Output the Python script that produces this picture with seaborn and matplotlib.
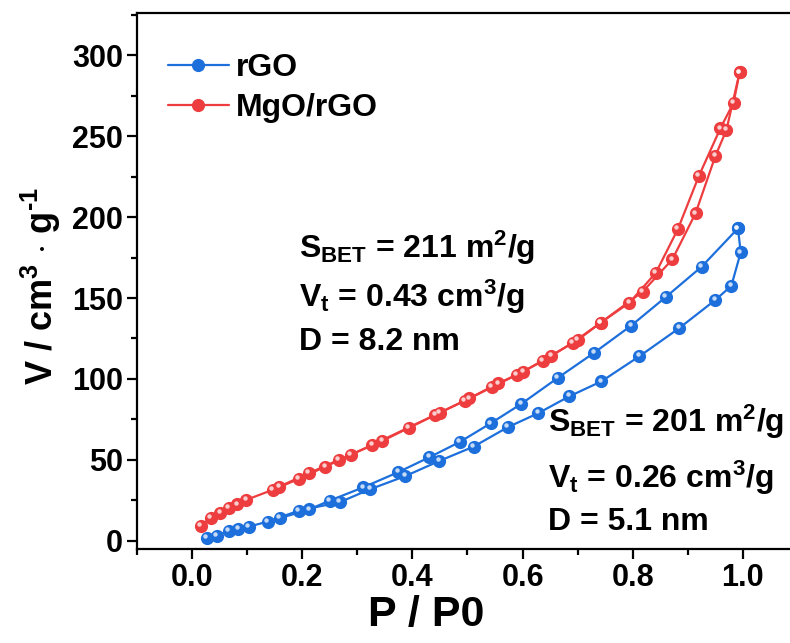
import numpy as np
import pandas as pd
import seaborn as sns
import matplotlib
matplotlib.use("Agg")
import matplotlib.pyplot as plt
from matplotlib.transforms import offset_copy
from matplotlib.ticker import MultipleLocator
from matplotlib.lines import Line2D

# ---------------- data ----------------
mg_ads_p = [0.016, 0.034, 0.051, 0.067, 0.082, 0.098, 0.146, 0.194, 0.242, 0.288, 0.327, 0.393, 0.441,
            0.495, 0.544, 0.589, 0.637, 0.691, 0.742, 0.818, 0.872, 0.914, 0.950, 0.970, 0.994]
mg_ads_v = [9.3, 14.4, 17.1, 20.2, 22.6, 25.3, 31.5, 38.3, 45.9, 53.1, 59.3, 70.0, 77.8,
            86.5, 94.9, 102.5, 111.1, 122.4, 134.8, 153.9, 173.9, 202.3, 237.7, 253.7, 289.3]
mg_des_p = [0.994, 0.983, 0.959, 0.920, 0.882, 0.842, 0.794, 0.742, 0.700, 0.652, 0.601, 0.556,
            0.503, 0.450, 0.345, 0.266, 0.212, 0.158]
mg_des_v = [289.3, 270.6, 254.7, 225.3, 192.6, 165.6, 147.1, 134.8, 124.0, 114.4, 104.5, 97.3,
            88.0, 79.2, 61.7, 50.0, 41.8, 33.5]

rgo_ads_p = [0.027, 0.045, 0.067, 0.084, 0.103, 0.137, 0.194, 0.268, 0.323, 0.387, 0.449, 0.511,
             0.573, 0.628, 0.685, 0.743, 0.812, 0.884, 0.950, 0.979, 0.996, 0.991]
rgo_ads_v = [1.8, 3.1, 6.4, 7.2, 8.8, 11.9, 18.7, 23.9, 31.9, 40.0, 49.4, 58.2,
             70.2, 78.8, 89.3, 98.5, 114.0, 131.3, 148.8, 157.5, 178.2, 193.0]
rgo_des_p = [0.991, 0.925, 0.860, 0.797, 0.730, 0.664, 0.598, 0.542, 0.486, 0.431, 0.374, 0.311,
             0.250, 0.213, 0.159]
rgo_des_v = [193.0, 169.3, 150.6, 132.9, 116.2, 100.7, 84.7, 72.6, 61.1, 51.7, 42.4, 33.1,
             24.9, 19.5, 14.0]

samples = ["rGO", "MgO/rGO"]
colors = {"rGO": "#1d6fdc", "MgO/rGO": "#ee3d3f"}

x_ticks = [0.0, 0.2, 0.4, 0.6, 0.8, 1.0]
y_ticks = [0, 50, 100, 150, 200, 250, 300]

annot_mg = [r"S$_{BET}$ = 211 m$^{2}$/g", r"V$_{t}$ = 0.43 cm$^{3}$/g", "D = 8.2 nm"]
annot_rgo = [r"S$_{BET}$ = 201 m$^{2}$/g", r"V$_{t}$ = 0.26 cm$^{3}$/g", "D = 5.1 nm"]

rows = []
for s, br, ps, vs in [("rGO", "ads", rgo_ads_p, rgo_ads_v), ("rGO", "des", rgo_des_p, rgo_des_v),
                      ("MgO/rGO", "ads", mg_ads_p, mg_ads_v), ("MgO/rGO", "des", mg_des_p, mg_des_v)]:
    for i, (p, v) in enumerate(zip(ps, vs)):
        rows.append({"sample": s, "branch": s + br, "order": i, "P": p, "V": v})
df = pd.DataFrame(rows)

# ---------------- style ----------------
sns.set_theme(style="ticks")
plt.rcParams["font.family"] = ["Liberation Sans", "DejaVu Sans"]
plt.rcParams["font.weight"] = "bold"
plt.rcParams["text.color"] = "black"
plt.rcParams["axes.labelcolor"] = "black"
plt.rcParams["xtick.color"] = "black"
plt.rcParams["ytick.color"] = "black"
plt.rcParams["mathtext.fontset"] = "custom"
plt.rcParams["mathtext.bf"] = "Liberation Sans:bold"
plt.rcParams["mathtext.rm"] = "Liberation Sans:bold"
plt.rcParams["mathtext.it"] = "Liberation Sans:bold"
plt.rcParams["mathtext.default"] = "bf"

fig = plt.figure(figsize=(7.9, 6.43), dpi=100)
ax = fig.add_axes([137 / 790, 94 / 643, 661 / 790, 536 / 643])

sns.lineplot(data=df, x="P", y="V", hue="sample", units="branch", estimator=None, sort=False,
             hue_order=samples, palette=colors, marker="o", markersize=9.5, markeredgewidth=0,
             linewidth=1.6, ax=ax, legend=False, zorder=3)

# glossy highlight on each ball
hl = offset_copy(ax.transData, fig=fig, x=-1.5, y=1.8, units="dots")
for s in samples:
    sub = df[df["sample"] == s]
    ax.plot(sub["P"], sub["V"], linestyle="none", marker="o", markersize=3.2,
            markeredgewidth=0, color="white", alpha=0.75, transform=hl, zorder=4)

ax.set_xlim(-0.1, 1.1)
ax.set_ylim(-5, 326)
ax.set_xticks(x_ticks)
ax.set_xticklabels([f"{t:.1f}" for t in x_ticks])
ax.set_yticks(y_ticks)
ax.set_yticklabels([str(t) for t in y_ticks])
ax.xaxis.set_minor_locator(MultipleLocator(0.1))
ax.yaxis.set_minor_locator(MultipleLocator(25))

for sp in ["left", "bottom", "top", "right"]:
    ax.spines[sp].set_linewidth(1.6)
    ax.spines[sp].set_color("black")
ax.tick_params(axis="both", which="major", direction="out", length=7, width=1.6,
               labelsize=22, colors="black", pad=3)
ax.tick_params(axis="both", which="minor", direction="out", length=4.5, width=1.6)
ax.tick_params(top=False, right=False, which="both")
for lab in ax.get_xticklabels() + ax.get_yticklabels():
    lab.set_fontweight("bold")

ax.set_xlabel("P / P0", fontsize=31, fontweight="bold")
ax.xaxis.set_label_coords(0.437, -0.085)
ax.set_ylabel(r"V / cm$^{3}$ $\cdot$ g$^{\text{-}1}$", fontsize=26, fontweight="bold")
ax.yaxis.set_label_coords(-0.112, 0.49)

for i, t in enumerate(annot_mg):
    ax.text(0.194, [181, 150.6, 122.8][i], t, fontsize=23, fontweight="bold", va="center", ha="left")
for i, t in enumerate(annot_rgo):
    ax.text(0.646, [73.5, 38.9, 11.7][i], t, fontsize=23, fontweight="bold", va="center", ha="left")

handles = [Line2D([], [], color=colors[s], linewidth=1.6, marker="o", markersize=9.5,
                  markeredgewidth=0) for s in samples]
leg = ax.legend(handles, samples, loc="upper left", bbox_to_anchor=(0.047, 0.925), frameon=False,
                fontsize=23, handlelength=1.9, handletextpad=0.22, labelspacing=0.32,
                borderaxespad=0, borderpad=0)
for t in leg.get_texts():
    t.set_fontweight("bold")

fig.savefig("out.png", dpi=100)
